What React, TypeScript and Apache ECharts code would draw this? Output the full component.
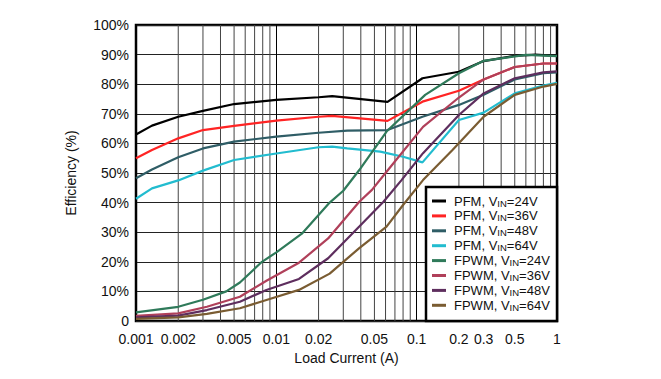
import React, { useEffect, useRef } from "react";
import * as echarts from "echarts";

// Load current (A) vs efficiency (%) pairs
const pfm24: [number, number][] = [
  [0.001, 63], [0.0013, 66], [0.002, 69], [0.003, 71], [0.005, 73.3], [0.01, 74.7],
  [0.02, 75.6], [0.025, 76], [0.062, 74], [0.11, 82], [0.2, 84.2], [0.3, 87.8],
  [0.5, 89.6], [0.7, 90], [1, 89.6],
];
const pfm36: [number, number][] = [
  [0.001, 55], [0.0013, 57.8], [0.002, 61.7], [0.003, 64.5], [0.005, 65.9], [0.01, 67.7],
  [0.02, 69], [0.025, 69.3], [0.062, 67.6], [0.11, 74.1], [0.2, 77.8], [0.3, 81.6],
  [0.5, 85.8], [0.8, 87], [1, 87],
];
const pfm48: [number, number][] = [
  [0.001, 48.2], [0.0013, 51.2], [0.002, 55.3], [0.003, 58.3], [0.005, 60.6], [0.01, 62.3],
  [0.02, 63.6], [0.032, 64.3], [0.062, 64.5], [0.11, 69], [0.2, 73], [0.3, 76.4],
  [0.5, 81.6], [0.8, 83.7], [1, 84],
];
const pfm64: [number, number][] = [
  [0.001, 41.3], [0.0013, 44.8], [0.002, 47.5], [0.003, 50.8], [0.005, 54.4], [0.01, 56.6],
  [0.02, 58.7], [0.025, 58.9], [0.032, 58.3], [0.055, 57.2], [0.08, 55.5], [0.11, 53.6],
  [0.2, 67.9], [0.3, 70.4], [0.5, 76.9], [0.8, 79.5], [1, 80.5],
];
const fpwm24: [number, number][] = [
  [0.001, 2.9], [0.002, 4.8], [0.003, 7.2], [0.0044, 10], [0.0055, 13], [0.0079, 20],
  [0.01, 23.2], [0.0152, 29.5], [0.024, 40], [0.03, 44], [0.039, 51], [0.061, 64],
  [0.115, 76.4], [0.2, 83.7], [0.3, 87.9], [0.6, 89.9], [1, 89.5],
];
const fpwm36: [number, number][] = [
  [0.001, 1.7], [0.002, 2.6], [0.0032, 4.8], [0.0055, 8.2], [0.0085, 13.6], [0.0145, 19.7],
  [0.0234, 27.9], [0.039, 40.3], [0.048, 44.3], [0.061, 50.4], [0.111, 65.6], [0.2, 75.5],
  [0.3, 81.6], [0.5, 85.8], [0.8, 87], [1, 87],
];
const fpwm48: [number, number][] = [
  [0.001, 1.2], [0.002, 1.8], [0.0032, 3.7], [0.0055, 6.5], [0.0085, 10.5], [0.0145, 14.2],
  [0.0234, 21.2], [0.039, 31.9], [0.058, 40.3], [0.078, 47.6], [0.111, 56.7], [0.2, 69.6],
  [0.3, 76.9], [0.5, 82], [0.8, 84], [1, 84.3],
];
const fpwm64: [number, number][] = [
  [0.001, 0.7], [0.002, 1.25], [0.0032, 2.4], [0.0055, 4.3], [0.0085, 7.1], [0.0145, 10.5],
  [0.024, 16], [0.03, 20], [0.039, 24.6], [0.061, 31.9], [0.08, 39.2], [0.111, 47.6],
  [0.18, 57.8], [0.3, 69], [0.5, 76.4], [0.8, 79.2], [1, 80.1],
];

const seriesNames = [
  "PFM, VIN=24V", "PFM, VIN=36V", "PFM, VIN=48V", "PFM, VIN=64V",
  "FPWM, VIN=24V", "FPWM, VIN=36V", "FPWM, VIN=48V", "FPWM, VIN=64V",
];
const seriesData = [pfm24, pfm36, pfm48, pfm64, fpwm24, fpwm36, fpwm48, fpwm64];
const seriesColors = [
  "#000000", "#ff2424", "#2f5d66", "#22bccf",
  "#2f7a5a", "#b0405a", "#5e2e5e", "#7a5c32",
];

// Minor vertical grid positions and extra tick labels on the log axis
const minorGridCurrents = [
  0.002, 0.003, 0.004, 0.005, 0.006, 0.007, 0.008, 0.009,
  0.02, 0.03, 0.04, 0.05, 0.06, 0.07, 0.08, 0.09,
  0.2, 0.3, 0.4, 0.5, 0.6, 0.7, 0.8, 0.9,
];
const extraCurrentLabels = ["0.002", "0.005", "0.02", "0.05", "0.2", "0.3", "0.5"];

const FONT = "'Liberation Sans', Arial, Helvetica, sans-serif";

export default function App() {
  const ref = useRef<HTMLDivElement>(null);

  useEffect(() => {
    if (!ref.current) return;
    const chart = echarts.init(ref.current, undefined, { renderer: "svg" });

    const lineSeries = seriesData.map((d, i) => ({
      name: seriesNames[i],
      type: "line",
      data: d,
      symbol: "none",
      z: 3,
      lineStyle: { color: seriesColors[i], width: 2.2 },
      itemStyle: { color: seriesColors[i] },
    }));

    const minorGridSeries = {
      name: "minorGrid",
      type: "custom",
      coordinateSystem: "cartesian2d",
      silent: true,
      clip: false,
      z: 1,
      data: minorGridCurrents.map((v) => [v, 0]),
      renderItem: (_params: any, api: any) => {
        const v = api.value(0);
        const p0 = api.coord([v, 0]);
        const p1 = api.coord([v, 100]);
        return {
          type: "line",
          shape: { x1: p0[0], y1: p0[1], x2: p1[0], y2: p1[1] },
          style: { stroke: "#444", lineWidth: 1 },
        };
      },
    };

    const extraLabelSeries = {
      name: "extraLabels",
      type: "custom",
      coordinateSystem: "cartesian2d",
      silent: true,
      clip: false,
      z: 1,
      data: extraCurrentLabels.map((s) => [Number(s), 0]),
      renderItem: (params: any, api: any) => {
        const p = api.coord([api.value(0), 0]);
        return {
          type: "text",
          x: p[0],
          y: p[1] + 11,
          style: {
            text: extraCurrentLabels[params.dataIndex],
            fontSize: 14,
            fontFamily: FONT,
            fill: "#111",
            align: "center",
            verticalAlign: "top",
          },
        };
      },
    };

    chart.setOption({
      animation: false,
      grid: {
        left: 136,
        right: 104,
        top: 25,
        bottom: 58,
        show: true,
        borderColor: "#000",
        borderWidth: 2.5,
        backgroundColor: "transparent",
      },
      xAxis: {
        type: "log",
        logBase: 10,
        min: 0.001,
        max: 1,
        name: "Load Current (A)",
        nameLocation: "middle",
        nameGap: 28,
        nameTextStyle: { fontSize: 14, fontFamily: FONT, color: "#111" },
        axisLine: { show: false },
        axisTick: { show: false },
        axisLabel: {
          fontSize: 14,
          fontFamily: FONT,
          color: "#111",
          margin: 11,
          formatter: (v: number) => String(+v.toPrecision(6)),
        },
        splitLine: { show: true, lineStyle: { color: "#000", width: 1 } },
      },
      yAxis: {
        type: "value",
        min: 0,
        max: 100,
        interval: 10,
        name: "Efficiency (%)",
        nameLocation: "middle",
        nameGap: 58,
        nameRotate: 90,
        nameTextStyle: { fontSize: 14, fontFamily: FONT, color: "#111" },
        axisLine: { show: false },
        axisTick: { show: false },
        axisLabel: {
          fontSize: 14,
          fontFamily: FONT,
          color: "#111",
          margin: 7,
          formatter: (v: number) => (v === 0 ? "0" : v + "%"),
        },
        splitLine: { show: true, lineStyle: { color: "#222", width: 1 } },
      },
      legend: {
        data: seriesNames,
        orient: "vertical",
        left: 432,
        top: 194,
        padding: 0,
        itemGap: 0.9,
        itemWidth: 14,
        itemHeight: 3,
        icon: "rect",
        z: 5,
        formatter: (name: string) => "{g|}" + name.replace("VIN", "V{sub|IN}"),
        textStyle: {
          fontSize: 13,
          fontFamily: FONT,
          color: "#111",
          lineHeight: 14,
          rich: {
            g: { width: 3, fontSize: 13, lineHeight: 14 },
            sub: {
              fontSize: 9.5,
              fontFamily: FONT,
              color: "#111",
              lineHeight: 6,
              verticalAlign: "bottom",
            },
          },
        },
      },
      graphic: [
        {
          type: "rect",
          z: 4,
          silent: true,
          shape: { x: 426, y: 187, width: 131, height: 134 },
          style: { fill: "#fff", stroke: "#000", lineWidth: 2.5 },
        },
      ],
      series: [minorGridSeries, extraLabelSeries, ...lineSeries],
    });

    return () => chart.dispose();
  }, []);

  return (
    <div
      ref={ref}
      style={{ position: "fixed", left: 0, top: 0, width: 661, height: 379, background: "#fff" }}
    />
  );
}
